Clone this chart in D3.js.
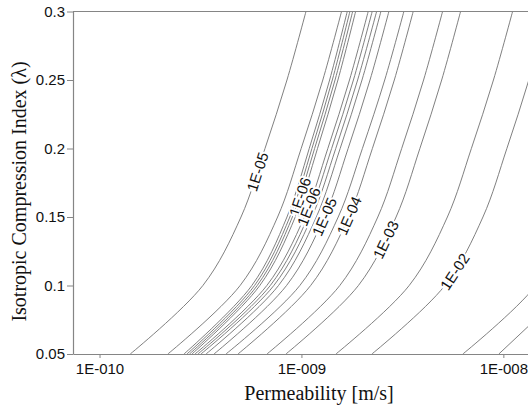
<!DOCTYPE html>
<html>
<head>
<meta charset="utf-8">
<script src="https://cdn.jsdelivr.net/npm/d3@7"></script>
<style>
  body { margin: 0; background: #fff; }
</style>
</head>
<body>
<div class="content"></div>
<script>
var lambdaLevels = [0.05, 0.1, 0.15, 0.2, 0.25, 0.3];

// permeability [m/s] of every contour at those levels (left to right)
var c0  = [1.42e-10, 3.25e-10, 5.02e-10, 6.60e-10, 8.48e-10, 1.053e-9];
var c1  = [2.18e-10, 4.97e-10, 7.62e-10, 9.97e-10, 1.276e-9, 1.58e-9];
var c2  = [2.62e-10, 5.68e-10, 8.48e-10, 1.093e-9, 1.379e-9, 1.686e-9];
var c3  = [2.71e-10, 5.86e-10, 8.76e-10, 1.127e-9, 1.422e-9, 1.738e-9];
var c4  = [2.79e-10, 6.04e-10, 9.02e-10, 1.162e-9, 1.467e-9, 1.793e-9];
var c5  = [2.87e-10, 6.22e-10, 9.32e-10, 1.201e-9, 1.516e-9, 1.855e-9];
var c6  = [2.97e-10, 6.74e-10, 1.034e-9, 1.351e-9, 1.730e-9, 2.141e-9];
var c7  = [3.07e-10, 7.01e-10, 1.077e-9, 1.411e-9, 1.809e-9, 2.241e-9];
var c8  = [3.18e-10, 7.30e-10, 1.126e-9, 1.479e-9, 1.898e-9, 2.357e-9];
var c9  = [3.37e-10, 7.70e-10, 1.185e-9, 1.555e-9, 1.995e-9, 2.475e-9];
var c10 = [3.69e-10, 8.44e-10, 1.298e-9, 1.703e-9, 2.186e-9, 2.711e-9];
var c11 = [4.23e-10, 9.82e-10, 1.521e-9, 2.004e-9, 2.585e-9, 3.216e-9];
var c12 = [4.85e-10, 1.111e-9, 1.711e-9, 2.246e-9, 2.884e-9, 3.577e-9];
var c13 = [6.75e-10, 1.549e-9, 2.389e-9, 3.137e-9, 4.027e-9, 5.00e-9];
var c14 = [8.38e-10, 1.915e-9, 2.943e-9, 3.860e-9, 4.950e-9, 6.140e-9];
var c15 = [1.482e-9, 3.417e-9, 5.282e-9, 6.944e-9, 8.933e-9, 1.111e-8];
var c16 = [2.233e-9, 5.134e-9, 7.925e-9, 1.041e-8, 1.337e-8, 1.661e-8];
var c17 = [6.302e-9, 1.449e-8, 2.236e-8];
var c18 = [9.499e-9, 2.183e-8];
var contours = [c0, c1, c2, c3, c4, c5, c6, c7, c8, c9, c10, c11, c12, c13, c14, c15, c16, c17, c18];

// contour labels: text, contour index, lambda where the label sits
var labelText   = ['1E-05', '1E-06', '1E-06', '1E-05', '1E-04', '1E-03', '1E-02'];
var labelLine   = [0, 4, 6, 10, 12, 14, 16];
var labelLambda = [0.183, 0.1648, 0.1575, 0.1502, 0.151, 0.1335, 0.1101];

var xTicks = [1e-10, 1e-9, 1e-8];
var xTickLabels = ['1E-010', '1E-009', '1E-008'];
var yTicks = [0.05, 0.1, 0.15, 0.2, 0.25, 0.3];
var yTickLabels = ['0.05', '0.1', '0.15', '0.2', '0.25', '0.3'];

var svgWidth = 528, svgHeight = 410;
var margin = {left: 73, top: 11.5, right: -37, bottom: 56};
var width = svgWidth - margin.left - margin.right,
  height = svgHeight - margin.top - margin.bottom;

var svg = d3.select('.content')
  .append('svg')
  .attr('width', svgWidth)
  .attr('height', svgHeight)
  .style('display', 'block');

var svgG = svg.append('g')
  .attr('transform', 'translate(' + margin.left + ',' + margin.top + ')');

var x = d3.scaleLog().domain([7.39e-11, 2.02e-8]).range([0, width]);
var y = d3.scaleLinear().domain([0.05, 0.3]).range([height, 0]);

var line = d3.line()
  .x(function(d) { return x(d[0]); })
  .y(function(d) { return y(d[1]); })
  .curve(d3.curveCatmullRom.alpha(0.5));

var lineColor = '#727272';
var axisColor = '#858585';

// contours
var paths = svgG.append('g')
  .attr('class', 'contours')
  .selectAll('path')
  .data(contours)
  .enter()
  .append('path')
  .attr('d', function(c) {
    return line(c.map(function(k, i) { return [k, lambdaLevels[i]]; }));
  })
  .attr('fill', 'none')
  .attr('stroke', lineColor)
  .attr('stroke-width', 0.9);

// frame: top border
svgG.append('line')
  .attr('x1', 0).attr('x2', width)
  .attr('y1', 0).attr('y2', 0)
  .attr('stroke', axisColor)
  .attr('stroke-width', 1.2);

var axis_x = svgG.append('g')
  .attr('transform', 'translate(0,' + height + ')')
  .call(d3.axisBottom(x).tickValues(xTicks)
    .tickFormat(function(d, i) { return xTickLabels[i]; })
    .tickSize(4).tickSizeOuter(0).tickPadding(5));

var axis_y = svgG.append('g')
  .call(d3.axisLeft(y).tickValues(yTicks)
    .tickFormat(function(d, i) { return yTickLabels[i]; })
    .tickSize(6).tickSizeOuter(0).tickPadding(2));

[axis_x, axis_y].forEach(function(a) {
  a.selectAll('path').attr('stroke', axisColor).attr('stroke-width', 1.2);
  a.selectAll('line').attr('stroke', axisColor);
  a.selectAll('text')
    .style('font-family', '"Liberation Sans", Arial, sans-serif')
    .style('font-size', '15px')
    .style('fill', '#111');
});

// contour labels, placed along their own line
var pathNodes = paths.nodes();
labelText.forEach(function(t, i) {
  var node = pathNodes[labelLine[i]];
  var total = node.getTotalLength();
  var ty = y(labelLambda[i]);
  var lo = 0, hi = total;
  for (var n = 0; n < 40; n++) {
    var mid = (lo + hi) / 2;
    if (node.getPointAtLength(mid).y > ty) lo = mid; else hi = mid;
  }
  var len = (lo + hi) / 2;
  var p = node.getPointAtLength(len);
  var p1 = node.getPointAtLength(Math.max(0, len - 4));
  var p2 = node.getPointAtLength(Math.min(total, len + 4));
  var ang = Math.atan2(p2.y - p1.y, p2.x - p1.x) * 180 / Math.PI;
  svgG.append('text')
    .attr('transform', 'translate(' + p.x + ',' + p.y + ') rotate(' + ang + ')')
    .attr('text-anchor', 'middle')
    .attr('dy', '0.36em')
    .style('font-family', '"Liberation Sans", Arial, sans-serif')
    .style('font-size', '15px')
    .style('fill', '#111')
    .style('stroke', '#fff')
    .style('stroke-width', 4)
    .style('paint-order', 'stroke')
    .text(t);
});

// axis titles
svg.append('text')
  .attr('x', 319)
  .attr('y', 400)
  .attr('text-anchor', 'middle')
  .style('font-family', '"Liberation Serif", "Times New Roman", serif')
  .style('font-size', '20px')
  .style('fill', '#111')
  .text('Permeability [m/s]');

svg.append('text')
  .attr('transform', 'translate(26,191.5) rotate(-90)')
  .attr('text-anchor', 'middle')
  .style('font-family', '"Liberation Serif", "Times New Roman", serif')
  .style('font-size', '20px')
  .style('fill', '#111')
  .text('Isotropic Compression Index (λ)');
</script>
</body>
</html>
